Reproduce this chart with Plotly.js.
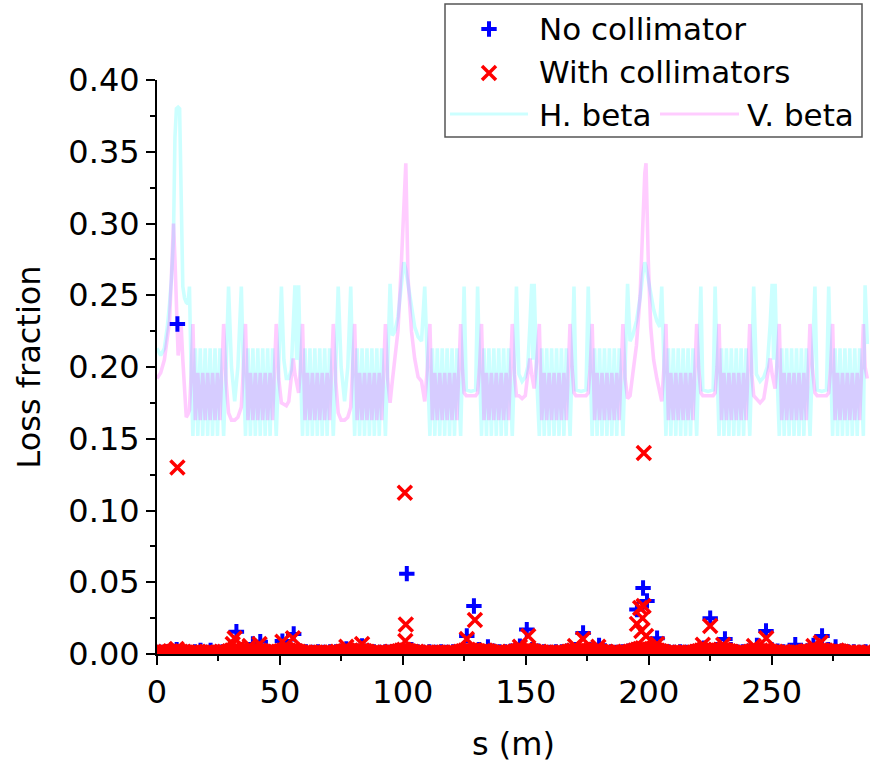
<!DOCTYPE html>
<html><head><meta charset="utf-8">
<script src="https://cdn.plot.ly/plotly-3.0.1.min.js"></script>
<style>html,body{margin:0;padding:0;background:#fff}#chart{width:877px;height:763px}</style>
</head><body><div id="chart"></div>
<script>
// Loss fraction without collimators
const sNo = [1.2,3.6,6.0,8.0,8.3,10.4,13.0,15.4,17.7,19.8,21.8,24.2,26.6,29.0,32.3,34.4,36.8,39.0,42.0,44.5,47.0,49.3,51.0,53.4,55.6,58.0,60.6,63.0,65.5,68.0,70.4,72.8,75.2,77.0,79.4,81.3,83.4,85.8,88.2,90.6,93.0,95.4,97.8,100.2,101.6,103.5,106.0,108.4,110.8,113.2,115.6,118.0,120.4,122.8,126.0,128.9,131.0,134.6,136.8,139.2,141.6,144.0,147.6,150.4,152.6,155.0,157.4,159.8,162.2,164.6,167.0,170.2,173.3,176.0,179.8,182.2,184.6,187.0,189.4,191.8,194.0,195.2,197.7,199.3,201.4,203.4,205.6,208.0,210.4,212.8,215.2,217.6,220.0,222.4,225.0,227.6,231.0,233.4,235.8,238.2,240.6,244.0,247.7,250.0,252.4,254.8,257.2,259.6,262.0,264.4,267.0,270.5,273.0,276.0,278.6,281.0,283.4,285.8,288.2];
const lossNo = [.001,.0015,.002,.003,.230,.001,.001,.0015,.0025,.001,.0025,.001,.0015,.002,.0155,.003,.0015,.007,.0085,.002,.001,.002,.009,.003,.014,.002,.0015,.001,.0015,.001,.0015,.0015,.002,.0035,.002,.002,.0056,.002,.0015,.001,.0015,.0015,.002,.002,.056,.003,.0015,.001,.0015,.001,.0015,.001,.0015,.0015,.0126,.0335,.003,.005,.002,.0015,.0015,.002,.0055,.017,.003,.002,.0015,.001,.0015,.0015,.002,.003,.0147,.003,.006,.002,.0015,.001,.0015,.002,.003,.031,.046,.037,.005,.011,.002,.0015,.001,.0015,.001,.0015,.002,.004,.025,.003,.0105,.003,.0015,.0015,.002,.006,.016,.003,.002,.0015,.0015,.0065,.0015,.002,.006,.0126,.003,.005,.002,.0015,.0015,.001,.0015];

// Loss fraction with collimators: dense near-zero losses around the ring
const sColBase = [
 0.5,1.5,2.5,3.5,4.5,5.5,6.5,7.5,8.5,9.5,10.5,11.5,12.5,13.5,14.5,15.5,16.5,17.5,18.5,19.5,
 20.5,21.5,22.5,23.5,24.5,25.5,26.5,27.5,28.5,29.5,30.5,31.5,32.5,33.5,34.5,35.5,36.5,37.5,38.5,39.5,
 40.5,41.5,42.5,43.5,44.5,45.5,46.5,47.5,48.5,49.5,50.5,51.5,52.5,53.5,54.5,55.5,56.5,57.5,58.5,59.5,
 60.5,61.5,62.5,63.5,64.5,65.5,66.5,67.5,68.5,69.5,70.5,71.5,72.5,73.5,74.5,75.5,76.5,77.5,78.5,79.5,
 80.5,81.5,82.5,83.5,84.5,85.5,86.5,87.5,88.5,89.5,90.5,91.5,92.5,93.5,94.5,95.5,96.5,97.5,98.5,99.5,
 100.5,101.5,102.5,103.5,104.5,105.5,106.5,107.5,108.5,109.5,110.5,111.5,112.5,113.5,114.5,115.5,116.5,117.5,118.5,119.5,
 120.5,121.5,122.5,123.5,124.5,125.5,126.5,127.5,128.5,129.5,130.5,131.5,132.5,133.5,134.5,135.5,136.5,137.5,138.5,139.5,
 140.5,141.5,142.5,143.5,144.5,145.5,146.5,147.5,148.5,149.5,150.5,151.5,152.5,153.5,154.5,155.5,156.5,157.5,158.5,159.5,
 160.5,161.5,162.5,163.5,164.5,165.5,166.5,167.5,168.5,169.5,170.5,171.5,172.5,173.5,174.5,175.5,176.5,177.5,178.5,179.5,
 180.5,181.5,182.5,183.5,184.5,185.5,186.5,187.5,188.5,189.5,190.5,191.5,192.5,193.5,194.5,195.5,196.5,197.5,198.5,199.5,
 200.5,201.5,202.5,203.5,204.5,205.5,206.5,207.5,208.5,209.5,210.5,211.5,212.5,213.5,214.5,215.5,216.5,217.5,218.5,219.5,
 220.5,221.5,222.5,223.5,224.5,225.5,226.5,227.5,228.5,229.5,230.5,231.5,232.5,233.5,234.5,235.5,236.5,237.5,238.5,239.5,
 240.5,241.5,242.5,243.5,244.5,245.5,246.5,247.5,248.5,249.5,250.5,251.5,252.5,253.5,254.5,255.5,256.5,257.5,258.5,259.5,
 260.5,261.5,262.5,263.5,264.5,265.5,266.5,267.5,268.5,269.5,270.5,271.5,272.5,273.5,274.5,275.5,276.5,277.5,278.5,279.5,
 280.5,281.5,282.5,283.5,284.5,285.5,286.5,287.5,288.5,289.5];
const lossColBase = [
 .001,.0005,.001,.0015,.001,.002,.0015,.0025,.002,.0015,.001,.0005,.001,.0005,.001,.0015,.001,.0005,.001,.0005,
 .001,.0015,.001,.0005,.001,.0005,.001,.0015,.001,.002,.0025,.003,.0035,.002,.0015,.001,.0015,.002,.0025,.002,
 .002,.0025,.002,.0015,.001,.0005,.001,.0005,.001,.0015,.002,.0025,.003,.0025,.002,.0025,.002,.0015,.001,.0005,
 .001,.0005,.001,.0005,.001,.0005,.001,.0005,.001,.0005,.001,.0005,.001,.0015,.001,.0015,.002,.0025,.002,.0015,
 .002,.0025,.002,.0025,.002,.0015,.001,.0005,.001,.0005,.001,.0005,.001,.0005,.001,.0015,.001,.0015,.002,.0025,
 .003,.0025,.002,.0015,.001,.0015,.001,.0005,.001,.0005,.001,.0005,.001,.0005,.001,.0005,.001,.0005,.001,.0005,
 .001,.0005,.001,.0015,.002,.0025,.003,.0025,.002,.0025,.002,.0015,.002,.0025,.002,.0015,.001,.0005,.001,.0005,
 .001,.0005,.001,.0015,.001,.0015,.002,.0025,.002,.0025,.003,.0025,.002,.0015,.001,.0015,.001,.0005,.001,.0005,
 .001,.0005,.001,.0005,.001,.0005,.001,.0015,.002,.0025,.002,.0025,.002,.003,.0025,.002,.0015,.002,.0025,.002,
 .0015,.001,.0015,.001,.0005,.001,.0005,.001,.0005,.001,.0015,.001,.0015,.002,.0025,.003,.0035,.004,.0035,.003,
 .003,.0025,.003,.0025,.002,.0015,.001,.0005,.001,.0005,.001,.0005,.001,.0005,.001,.0005,.001,.0005,.001,.0015,
 .002,.0025,.003,.0025,.003,.0025,.002,.0025,.002,.0025,.003,.0025,.002,.0015,.001,.0005,.001,.0005,.001,.0005,
 .001,.0015,.002,.0025,.002,.0025,.002,.0025,.002,.0015,.001,.0015,.001,.0005,.001,.0005,.001,.0005,.001,.0015,
 .001,.0005,.001,.0015,.002,.0015,.002,.0025,.002,.0025,.0025,.002,.0015,.001,.0015,.002,.0025,.002,.0015,.001,
 .0005,.001,.0005,.001,.0005,.001,.0005,.001,.0005,.001];
// Loss fraction with collimators: distinct peaks
const sColPeak = [8.0,8.3,30.8,31.6,37.7,41.7,51.0,55.3,77.0,83.4,100.8,101.0,101.2,126.0,129.3,147.6,151.0,170.0,173.3,179.5,195.2,196.5,197.0,197.5,197.9,198.0,198.9,203.4,222.0,225.0,230.3,242.8,247.8,267.0,270.0];
const lossColPeak = [.0035,.130,.007,.011,.0055,.007,.0085,.011,.005,.007,.1124,.009,.0205,.0105,.0237,.005,.0126,.0055,.0105,.005,.021,.032,.016,.025,.0335,.140,.0126,.007,.0065,.0195,.0065,.0055,.011,.0055,.008];

// Beta functions (scaled), shared s positions
const sBeta = [
 0,1.5,3,4.2,5.1,5.9,6.7,7.3,7.9,8.6,9.2,9.8,10.5,11.2,11.9,12.6,13.2,13.9,
 14.6,15.6,16.6,17.6,18.6,19.6,20.6,21.6,22.6,23.6,24.6,25.6,27.1,
 28.1,29.1,30.3,31.6,32.9,34.3,35.2,
 36,37,38,39,40,41,42,43,44,45,46,47,48.5,
 49.5,50.6,51.6,52.6,53.6,54.6,55.4,56.1,56.8,57.6,58.4,
 59.2,60.2,61.2,62.2,63.2,64.2,65.2,66.2,67.2,68.2,69.2,70.2,71.7,
 72.7,73.7,74.9,76.3,77.6,78.8,79.6,
 80.4,81.4,82.4,83.4,84.4,85.4,86.4,87.4,88.4,89.4,90.4,91.4,92.9,
 93.8,94.8,95.7,96.8,98.0,99.2,100.4,101.2,102.1,103.5,104.8,106.2,107.6,108.9,110.0,
 111,112,113,114,115,116,117,118,119,120,121,122,123.5,
 124.2,124.9,125.8,127.7,129.6,130.4,131.2,
 132,133,134,135,136,137,138,139,140,141,142,143,144.5,
 145.4,146.2,147.2,148.5,149.8,150.8,151.7,152.4,152.9,153.4,154.5,
 155.5,156.5,157.5,158.5,159.5,160.5,161.5,162.5,163.5,164.5,165.5,166.5,168,
 168.8,169.6,170.4,172.5,174.5,175.4,176.2,
 177,178,179,180,181,182,183,184,185,186,187,188,189.5,
 190.4,191.4,192.4,193.5,195.0,196.5,197.6,198.4,198.9,199.8,200.8,202.0,203.3,204.5,205.3,206.2,
 207,208,209,210,211,212,213,214,215,216,217,218,219.5,
 220.3,221.2,222.0,224.1,226.2,227.0,227.8,
 228.6,229.6,230.6,231.6,232.6,233.6,234.6,235.6,236.6,237.6,238.6,239.6,241.1,
 241.9,242.7,243.8,245.3,246.8,248.2,249.4,250.2,250.8,251.4,252.3,
 253.1,254.1,255.1,256.1,257.1,258.1,259.1,260.1,261.1,262.1,263.1,264.1,265.6,
 266.5,267.6,268.5,270.4,272.3,273.2,274.0,
 274.8,275.8,276.8,277.8,278.8,279.8,280.8,281.8,282.8,283.8,284.8,285.8,287.3,
 288.0,288.9];
const hBeta = [
 .213,.208,.213,.228,.244,.262,.290,.360,.380,.381,.380,.320,.256,.248,.245,.244,.256,.195,
 .152,.213,.152,.213,.152,.213,.152,.213,.152,.213,.152,.213,.152,
 .200,.256,.200,.176,.200,.256,.195,
 .152,.213,.152,.213,.152,.213,.152,.213,.152,.213,.152,.213,.152,
 .200,.256,.205,.192,.192,.198,.228,.257,.205,.257,.195,
 .152,.213,.152,.213,.152,.213,.152,.213,.152,.213,.152,.213,.152,
 .200,.256,.200,.176,.200,.256,.195,
 .152,.213,.152,.213,.152,.213,.152,.213,.152,.213,.152,.213,.152,
 .200,.258,.222,.225,.235,.255,.273,.268,.258,.240,.228,.221,.218,.256,.195,
 .152,.213,.152,.213,.152,.213,.152,.213,.152,.213,.152,.213,.152,
 .200,.256,.184,.183,.184,.256,.200,
 .152,.213,.152,.213,.152,.213,.152,.213,.152,.213,.152,.213,.152,
 .200,.256,.195,.190,.193,.200,.230,.258,.205,.258,.190,
 .152,.213,.152,.213,.152,.213,.152,.213,.152,.213,.152,.213,.152,
 .200,.256,.184,.183,.184,.256,.200,
 .152,.213,.152,.213,.152,.213,.152,.213,.152,.213,.152,.213,.152,
 .200,.258,.218,.222,.232,.248,.265,.273,.270,.262,.250,.240,.232,.228,.256,.195,
 .152,.213,.152,.213,.152,.213,.152,.213,.152,.213,.152,.213,.152,
 .200,.256,.184,.183,.184,.256,.200,
 .152,.213,.152,.213,.152,.213,.152,.213,.152,.213,.152,.213,.152,
 .200,.256,.195,.190,.193,.200,.230,.258,.205,.258,.190,
 .152,.213,.152,.213,.152,.213,.152,.213,.152,.213,.152,.213,.152,
 .200,.256,.184,.183,.184,.256,.200,
 .152,.213,.152,.213,.152,.213,.152,.213,.152,.213,.152,.213,.152,
 .257,.216];
const vBeta = [
 .192,.196,.205,.220,.232,.265,.300,.275,.235,.208,.218,.230,.205,.185,.165,.167,.170,.195,
 .230,.163,.196,.163,.196,.163,.196,.163,.196,.163,.196,.163,.230,
 .190,.168,.163,.163,.165,.172,.200,
 .230,.163,.196,.163,.196,.163,.196,.163,.196,.163,.196,.163,.230,
 .192,.175,.174,.173,.176,.190,.206,.195,.188,.182,.200,
 .230,.163,.196,.163,.196,.163,.196,.163,.196,.163,.196,.163,.230,
 .190,.168,.163,.163,.165,.172,.200,
 .230,.163,.196,.163,.196,.163,.196,.163,.196,.163,.196,.163,.230,
 .192,.175,.190,.205,.225,.265,.310,.342,.262,.225,.206,.193,.190,.176,.200,
 .230,.163,.196,.163,.196,.163,.196,.163,.196,.163,.196,.163,.230,
 .200,.182,.180,.180,.180,.182,.200,
 .230,.163,.196,.163,.196,.163,.196,.163,.196,.163,.196,.163,.230,
 .195,.180,.180,.178,.180,.195,.206,.195,.190,.185,.205,
 .230,.163,.196,.163,.196,.163,.196,.163,.196,.163,.196,.163,.230,
 .200,.182,.180,.180,.180,.182,.200,
 .230,.163,.196,.163,.196,.163,.196,.163,.196,.163,.196,.163,.230,
 .192,.178,.180,.195,.215,.250,.300,.335,.342,.275,.228,.205,.192,.182,.176,.200,
 .230,.163,.196,.163,.196,.163,.196,.163,.196,.163,.196,.163,.230,
 .200,.182,.180,.180,.180,.182,.200,
 .230,.163,.196,.163,.196,.163,.196,.163,.196,.163,.196,.163,.230,
 .195,.180,.178,.175,.178,.195,.206,.195,.190,.185,.205,
 .230,.163,.196,.163,.196,.163,.196,.163,.196,.163,.196,.163,.230,
 .200,.182,.180,.180,.180,.182,.200,
 .230,.163,.196,.163,.196,.163,.196,.163,.196,.163,.196,.163,.230,
 .200,.192];

const legendNames = ['No collimator','With collimators','H. beta','V. beta'];
const xTickVals = [0,50,100,150,200,250];
const yTickVals = [0,0.05,0.10,0.15,0.20,0.25,0.30,0.35,0.40];

const FONT = 'DejaVu Sans, Verdana, sans-serif';
const cyanC = 'rgba(0,255,255,0.2)';
const pinkC = 'rgba(255,0,255,0.2)';

// page geometry (paper = 877 x 654 px above the bottom margin)
const W = 877, H = 763, BM = 109, PH = H - BM;
const L = 157, R = 870, T = 80;
const pxX = x => x / W;
const pxY = y => (PH - y) / PH;

const plusMarker = {symbol: 'cross-thin-open', size: 11, color: 'blue', line: {color: 'blue', width: 4}};
const crossMarker = {symbol: 'x-thin-open', size: 14, color: 'red', line: {color: 'red', width: 3.5}};

const traces = [
  {x: sBeta, y: hBeta, mode: 'lines', name: legendNames[2], line: {color: cyanC, width: 3.6}, showlegend: false, hoverinfo: 'skip'},
  {x: sBeta, y: vBeta, mode: 'lines', name: legendNames[3], line: {color: pinkC, width: 3.6}, showlegend: false, hoverinfo: 'skip'},
  {x: sNo, y: lossNo, mode: 'markers', name: legendNames[0], showlegend: false, marker: plusMarker},
  {x: sColBase.concat(sColPeak), y: lossColBase.concat(lossColPeak), mode: 'markers', name: legendNames[1], showlegend: false, marker: crossMarker},
  // legend symbols, drawn on an invisible full-page subplot in pixel units
  {x: [489], y: [29], xaxis: 'x3', yaxis: 'y3', mode: 'markers', showlegend: false, hoverinfo: 'skip', marker: plusMarker},
  {x: [489], y: [73], xaxis: 'x3', yaxis: 'y3', mode: 'markers', showlegend: false, hoverinfo: 'skip', marker: crossMarker}
];

const axisCommon = {
  showgrid: false, zeroline: false, showline: true, linecolor: 'black', linewidth: 2,
  ticks: 'outside', ticklen: 9, tickwidth: 2, tickcolor: 'black',
  tickfont: {family: FONT, size: 32, color: 'black'}, automargin: false
};

const layout = {
  width: W, height: H,
  margin: {l: 0, r: 0, t: 0, b: BM, pad: 0},
  paper_bgcolor: 'white', plot_bgcolor: 'rgba(0,0,0,0)',
  font: {family: FONT, color: 'black'},
  showlegend: false,
  xaxis: Object.assign({}, axisCommon, {
    domain: [L / W, R / W], anchor: 'y',
    range: [0, 290], tickvals: xTickVals, ticktext: xTickVals.map(String),
    minor: {dtick: 25, tick0: 0, ticks: 'outside', ticklen: 5, tickwidth: 2, tickcolor: 'black', showgrid: false},
    title: {text: 's (m)', font: {family: FONT, size: 32, color: 'black'}, standoff: 24}
  }),
  yaxis: Object.assign({}, axisCommon, {
    domain: [0, (PH - T) / PH], anchor: 'x',
    range: [0, 0.40], tickvals: yTickVals, ticktext: yTickVals.map(v => v.toFixed(2)),
    minor: {dtick: 0.025, tick0: 0, ticks: 'outside', ticklen: 5, tickwidth: 2, tickcolor: 'black', showgrid: false},
    title: {text: 'Loss fraction', font: {family: FONT, size: 32, color: 'black'}, standoff: 18}
  }),
  xaxis3: {domain: [0, 1], anchor: 'y3', range: [0, W], visible: false, fixedrange: true},
  yaxis3: {domain: [0, 1], anchor: 'x3', range: [PH, 0], visible: false, fixedrange: true},
  shapes: [
    {type: 'rect', xref: 'paper', yref: 'paper', x0: pxX(445), x1: pxX(862), y0: pxY(137), y1: pxY(4),
     line: {color: '#555555', width: 1.5}, fillcolor: 'rgba(0,0,0,0)'},
    {type: 'line', xref: 'paper', yref: 'paper', x0: pxX(450), x1: pxX(528), y0: pxY(114), y1: pxY(114),
     line: {color: cyanC, width: 3}},
    {type: 'line', xref: 'paper', yref: 'paper', x0: pxX(660), x1: pxX(739), y0: pxY(114), y1: pxY(114),
     line: {color: pinkC, width: 3}}
  ],
  annotations: [
    {text: legendNames[0], xref: 'paper', yref: 'paper', x: pxX(537), y: pxY(29), xanchor: 'left', yanchor: 'middle', showarrow: false, font: {family: FONT, size: 31, color: 'black'}},
    {text: legendNames[1], xref: 'paper', yref: 'paper', x: pxX(537), y: pxY(72), xanchor: 'left', yanchor: 'middle', showarrow: false, font: {family: FONT, size: 31, color: 'black'}},
    {text: legendNames[2], xref: 'paper', yref: 'paper', x: pxX(537), y: pxY(115), xanchor: 'left', yanchor: 'middle', showarrow: false, font: {family: FONT, size: 31, color: 'black'}},
    {text: legendNames[3], xref: 'paper', yref: 'paper', x: pxX(745), y: pxY(115), xanchor: 'left', yanchor: 'middle', showarrow: false, font: {family: FONT, size: 31, color: 'black'}}
  ]
};

Plotly.newPlot('chart', traces, layout, {displayModeBar: false, staticPlot: true});
</script>
</body></html>
